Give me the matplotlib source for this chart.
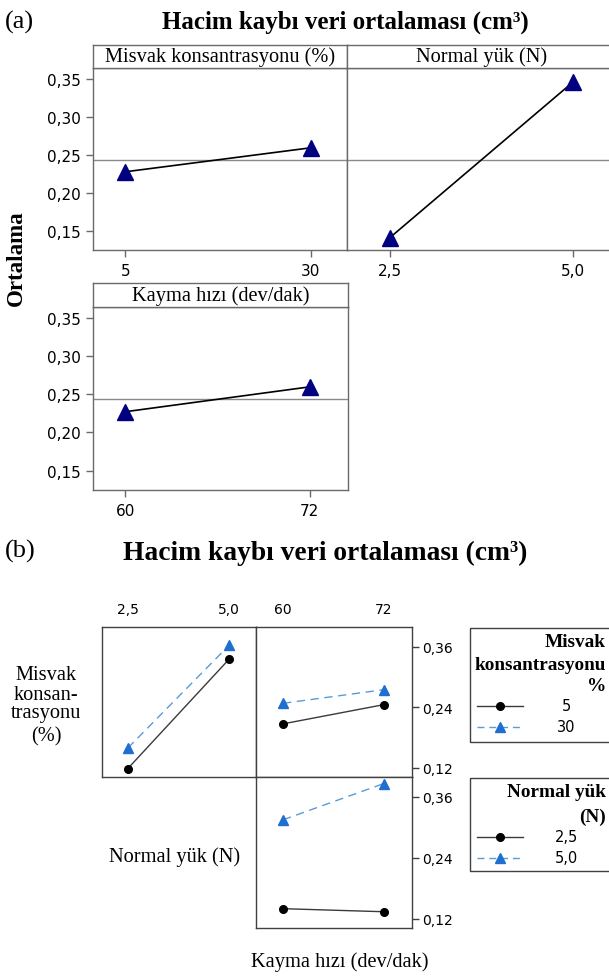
import numpy as np
import matplotlib
matplotlib.use("Agg")
import matplotlib.pyplot as plt
from matplotlib.lines import Line2D
from matplotlib.patches import Rectangle

# ---------------- data ----------------
misvak_levels = [5, 30]
misvak_means = [0.2277, 0.2593]
normal_levels = [2.5, 5.0]
normal_means = [0.141, 0.346]
kayma_levels = [60, 72]
kayma_means = [0.2272, 0.2598]
grand_mean = 0.2435

misvak_xlabels = ["5", "30"]
normal_xlabels = ["2,5", "5,0"]
kayma_xlabels = ["60", "72"]
a_yticks = [0.15, 0.20, 0.25, 0.30, 0.35]
a_yticklabels = ["0,15", "0,20", "0,25", "0,30", "0,35"]

# interaction means (panel b)
misvak_groups = ["5", "30"]
mk_by_normal = {"5": [0.1187, 0.335], "30": [0.1593, 0.3626]}
mk_by_kayma = {"5": [0.2072, 0.2452], "30": [0.2479, 0.2748]}
normal_groups = ["2,5", "5,0"]
nl_by_kayma = {"2,5": [0.140, 0.134], "5,0": [0.3148, 0.386]}
b_yticks = [0.12, 0.24, 0.36]
b_yticklabels = ["0,12", "0,24", "0,36"]

title_text = "Hacim kaybı veri ortalaması (cm³)"

# ---------------- figure ----------------
W, H = 609, 979
fig = plt.figure(figsize=(W / 100, H / 100), dpi=100)

SERIF = "Liberation Serif"
SANS = "DejaVu Sans"
SPINE = "#6a6a6a"
SERIF_SIZE = 14.7


def rect(x0, y0, x1, y1):
    return [x0 / W, 1 - y1 / H, (x1 - x0) / W, (y1 - y0) / H]


def fx(x):
    return x / W


def fy(y):
    return 1 - y / H


# ---------------- panel (a) ----------------
fig.text(fx(5), fy(22), "(a)", fontsize=19, family=SERIF, ha="left", va="center")
fig.text(fx(345), fy(22), title_text, fontsize=18, family=SERIF,
         weight="bold", ha="center", va="center")
fig.text(fx(16), fy(258), "Ortalama", fontsize=16.5, family=SERIF,
         weight="bold", rotation=90, ha="center", va="center")

a_ylim = (0.1246, 0.3645)
tri_col = "#000080"


def main_panel(r, levels, means, xlabels, xlim, strip_r, strip_text, show_y):
    ax = fig.add_axes(rect(*r))
    ax.plot(levels, means, color="black", lw=1.2, zorder=3)
    ax.plot(levels, means, ls="none", marker="^", ms=12, color=tri_col, zorder=4)
    ax.axhline(grand_mean, color="#8a8a8a", lw=1, zorder=2)
    ax.set_xlim(*xlim)
    ax.set_ylim(*a_ylim)
    ax.set_xticks(levels)
    ax.set_xticklabels(xlabels, fontsize=11, family=SANS)
    if show_y:
        ax.set_yticks(a_yticks)
        ax.set_yticklabels(a_yticklabels, fontsize=11, family=SANS)
    else:
        ax.set_yticks([])
    ax.tick_params(direction="out", length=5, width=1, color=SPINE, pad=4)
    for s in ax.spines.values():
        s.set_color(SPINE)
        s.set_linewidth(1)
    sax = fig.add_axes(rect(*strip_r))
    sax.set_xticks([])
    sax.set_yticks([])
    for s in sax.spines.values():
        s.set_color(SPINE)
        s.set_linewidth(1)
    sax.text(0.5, 0.5, strip_text, transform=sax.transAxes, ha="center",
             va="center", fontsize=SERIF_SIZE, family=SERIF)
    return ax


main_panel((93, 69, 347, 251), misvak_levels, misvak_means, misvak_xlabels,
           (0.63, 34.9), (93, 46, 347, 69), "Misvak konsantrasyonu (%)", True)
main_panel((347, 69, 616, 251), normal_levels, normal_means, normal_xlabels,
           (1.913, 5.587), (347, 46, 616, 69), "Normal yük (N)", False)
main_panel((93, 308, 348, 491), kayma_levels, kayma_means, kayma_xlabels,
           (57.9, 74.5), (93, 284, 348, 308), "Kayma hızı (dev/dak)", True)

# ---------------- panel (b) ----------------
fig.text(fx(5), fy(551), "(b)", fontsize=19, family=SERIF, ha="left", va="center")
fig.text(fx(325), fy(553), title_text, fontsize=19.8, family=SERIF,
         weight="bold", ha="center", va="center")

b_ylim = (0.102, 0.399)
c_black = "black"
c_line_black = "#3a3a3a"
c_blue = "#1f6fd0"
c_line_blue = "#5b9bd5"
BOX = "#404040"


def inter_panel(r, levels, series, order, xlim, top_labels, right_ticks):
    ax = fig.add_axes(rect(*r))
    k0, k1 = order
    ax.plot(levels, series[k0], color=c_line_black, lw=1, zorder=3)
    ax.plot(levels, series[k0], ls="none", marker="o", ms=5.5, color=c_black, zorder=4)
    ax.plot(levels, series[k1], color=c_line_blue, lw=1, ls=(0, (6, 4)), zorder=3)
    ax.plot(levels, series[k1], ls="none", marker="^", ms=7.5, color=c_blue, zorder=4)
    ax.set_xlim(*xlim)
    ax.set_ylim(*b_ylim)
    if top_labels is not None:
        ax.xaxis.tick_top()
        ax.set_xticks(levels)
        ax.set_xticklabels(top_labels, fontsize=10, family=SANS)
        ax.tick_params(axis="x", length=0, pad=8)
    else:
        ax.set_xticks([])
    if right_ticks:
        ax.yaxis.tick_right()
        ax.set_yticks(b_yticks)
        ax.set_yticklabels(b_yticklabels, fontsize=10, family=SANS)
        ax.tick_params(axis="y", direction="out", length=5, width=1,
                       color=BOX, pad=3)
    else:
        ax.set_yticks([])
    for s in ax.spines.values():
        s.set_color(BOX)
        s.set_linewidth(1)
    return ax


inter_panel((101.5, 628, 256, 778), normal_levels, mk_by_normal, misvak_groups,
            (1.849, 5.668), normal_xlabels, False)
inter_panel((256, 628, 411.5, 778), kayma_levels, mk_by_kayma, misvak_groups,
            (56.78, 75.32), kayma_xlabels, True)
inter_panel((256, 778, 411.5, 929), kayma_levels, nl_by_kayma, normal_groups,
            (56.78, 75.32), None, True)

# row / column labels
for txt, y in [("Misvak", 675), ("konsan-", 695), ("trasyonu", 714), ("(%)", 737)]:
    fig.text(fx(46), fy(y), txt, fontsize=SERIF_SIZE, family=SERIF,
             ha="center", va="center")
fig.text(fx(175), fy(857), "Normal yük (N)", fontsize=SERIF_SIZE, family=SERIF,
         ha="center", va="center")
fig.text(fx(340), fy(962), "Kayma hızı (dev/dak)", fontsize=SERIF_SIZE, family=SERIF,
         ha="center", va="center")

# legends (drawn on an overlay axes in pixel-like coordinates)
lax = fig.add_axes([0, 0, 1, 1])
lax.set_xlim(0, W)
lax.set_ylim(H, 0)
lax.axis("off")
for (y0, y1) in [(629, 743), (779, 872)]:
    lax.add_patch(Rectangle((470, y0), 150, y1 - y0, fill=False,
                            edgecolor=BOX, lw=1, clip_on=False))

for txt, y in [("Misvak", 643), ("konsantrasyonu", 666), ("%", 687)]:
    lax.text(606, y, txt, fontsize=13.9, family=SERIF, weight="bold",
             ha="right", va="center")
for txt, y in [("Normal yük", 793), ("(N)", 817)]:
    lax.text(606, y, txt, fontsize=13.9, family=SERIF, weight="bold",
             ha="right", va="center")


def legend_entry(y, label, solid):
    if solid:
        lax.add_line(Line2D([477, 523], [y, y], color=c_line_black, lw=1))
        lax.add_line(Line2D([500], [y], marker="o", ms=5.5, color=c_black, ls="none"))
    else:
        lax.add_line(Line2D([477, 523], [y, y], color=c_line_blue, lw=1,
                            ls=(0, (5, 3.5))))
        lax.add_line(Line2D([500], [y], marker="^", ms=7.5, color=c_blue, ls="none"))
    lax.text(566, y, label, fontsize=10.5, family=SANS, ha="center", va="center")


legend_entry(707, misvak_groups[0], True)
legend_entry(728, misvak_groups[1], False)
legend_entry(838, normal_groups[0], True)
legend_entry(859, normal_groups[1], False)

fig.savefig("out.png", dpi=100)
